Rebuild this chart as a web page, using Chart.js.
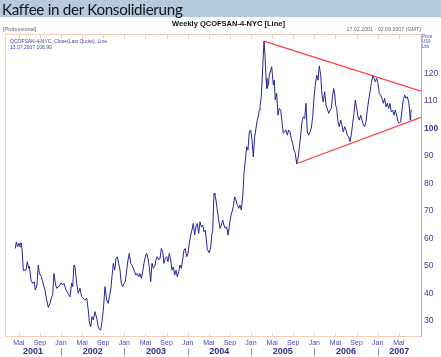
<!DOCTYPE html>
<html><head><meta charset="utf-8">
<script src="https://cdn.jsdelivr.net/npm/chart.js@4"></script>
<style>
html,body{margin:0;padding:0;background:#fff;}
#wrap{position:relative;width:441px;height:357px;overflow:hidden;font-family:'Liberation Sans',Arial,sans-serif;}
#c{position:absolute;left:0;top:0;}
.t{position:absolute;white-space:nowrap;line-height:1;}
#hdr{position:absolute;left:0;top:0;width:441px;height:17px;background:#b6cadf;}
#hdrtxt{left:2px;top:2px;font-family:Lato,'Liberation Sans',sans-serif;font-size:15.2px;letter-spacing:-0.3px;color:#141414;}
#title{left:0;width:457px;text-align:center;top:20px;font-size:7.5px;font-weight:bold;color:#111;}
#prof{left:3px;top:26.8px;font-size:5.5px;color:#666;}
#range{right:20px;top:26.8px;font-size:5.3px;color:#666;}
.leg{left:10px;font-size:5px;color:#3d3db0;}
.unit{left:422px;font-size:4.5px;color:#3d3db0;}
</style></head>
<body>
<div id="wrap">
<canvas id="c" width="441" height="357"></canvas>
<div id="hdr"></div>
<div class="t" id="hdrtxt">Kaffee in der Konsolidierung</div>
<div class="t" id="title">Weekly QCOFSAN-4-NYC [Line]</div>
<div class="t" id="prof">[Professional]</div>
<div class="t" id="range">17.02.2001 - 02.09.2007 (GMT)</div>
<div class="t leg" style="top:39.3px">QCOFSAN-4-NYC, Close(Last Quote), Line</div>
<div class="t leg" style="top:45px">13.07.2007 106,90</div>
<div class="t unit" style="top:34.5px">Price</div>
<div class="t unit" style="top:40px">US¢</div>
<div class="t unit" style="top:45px">Lbs</div>
</div>
<script>
// weekly close dates as decimal years
const weeks = [
2001.279,2001.294,2001.316,2001.337,2001.353,2001.368,2001.384,2001.405,2001.447,2001.468,2001.490,2001.500,2001.526,2001.553,2001.578,2001.594,2001.621,2001.642,2001.657,2001.689,2001.711,2001.747,2001.774,2001.800,2001.826,2001.853,2001.869,2001.889,2001.916,2001.932,2001.964,
2002.000,2002.027,2002.047,2002.079,2002.111,2002.142,2002.169,2002.185,2002.205,2002.221,2002.248,2002.273,2002.300,2002.327,2002.352,2002.379,2002.406,2002.431,2002.447,2002.469,2002.489,2002.510,2002.537,2002.564,2002.589,2002.605,2002.627,2002.647,2002.668,2002.695,2002.722,2002.747,2002.763,2002.785,2002.805,2002.826,2002.848,2002.868,2002.889,2002.911,2002.932,2002.952,2002.974,2002.995,
2003.015,2003.037,2003.058,2003.078,2003.100,2003.121,2003.142,2003.164,2003.184,2003.205,2003.227,2003.247,2003.268,2003.290,2003.310,2003.337,2003.353,2003.378,2003.394,2003.416,2003.437,2003.457,2003.479,2003.500,2003.520,2003.543,2003.563,2003.584,2003.606,2003.626,2003.647,2003.669,2003.689,2003.710,2003.732,2003.752,2003.773,2003.795,2003.816,2003.836,2003.858,2003.879,2003.899,2003.921,2003.942,2003.962,2003.985,
2004.005,2004.026,2004.048,2004.068,2004.089,2004.111,2004.131,2004.152,2004.174,2004.195,2004.215,2004.237,2004.258,2004.278,2004.300,2004.310,2004.341,2004.364,2004.384,2004.395,2004.405,2004.416,2004.431,2004.447,2004.468,2004.490,2004.510,2004.531,2004.553,2004.573,2004.594,2004.616,2004.637,2004.657,2004.679,2004.700,2004.720,2004.742,2004.763,2004.783,2004.806,2004.826,2004.847,2004.869,2004.889,2004.910,2004.932,2004.952,2004.973,2004.995,
2005.016,2005.036,2005.058,2005.079,2005.099,2005.115,2005.131,2005.142,2005.162,2005.184,2005.205,2005.221,2005.237,2005.252,2005.273,2005.289,2005.327,2005.342,2005.352,2005.368,2005.383,2005.406,2005.426,2005.447,2005.469,2005.489,2005.510,2005.532,2005.552,2005.573,2005.595,2005.616,2005.636,2005.658,2005.679,2005.699,2005.721,2005.742,2005.762,2005.784,2005.805,2005.826,2005.848,2005.868,2005.889,2005.911,2005.931,2005.952,2005.974,2005.994,
2006.015,2006.037,2006.058,2006.078,2006.100,2006.121,2006.141,2006.163,2006.184,2006.204,2006.227,2006.247,2006.268,2006.287,2006.305,2006.321,2006.337,2006.353,2006.373,2006.394,2006.416,2006.436,2006.457,2006.479,2006.500,2006.520,2006.542,2006.563,2006.583,2006.605,2006.626,2006.646,2006.669,2006.689,2006.710,2006.732,2006.752,2006.773,2006.795,2006.815,2006.836,2006.858,2006.879,2006.899,2006.921,2006.942,2006.962,2006.984,
2007.005,2007.025,2007.047,2007.068,2007.089,2007.111,2007.131,2007.152,2007.174,2007.194,2007.215,2007.237,2007.257,2007.278,2007.300,2007.321,2007.341,2007.363,2007.384,2007.404,2007.426,2007.447,2007.467,2007.490,2007.505,2007.514,2007.522,2007.530
];
// close prices, US cents per lb
const prices = [
56.4,58.8,57.0,58.3,57.0,58.5,56.5,48.5,48.5,51.6,49.2,50.0,44.9,43.7,44.3,41.3,43.1,50.4,47.5,46.1,44.3,41.3,37.6,35.0,36.4,38.8,39.5,47.3,43.1,41.9,42.5,
43.9,43.1,43.7,41.3,40.1,38.8,43.9,42.5,50.4,49.7,43.7,40.1,41.9,38.8,38.3,37.6,38.3,34.0,29.7,27.9,31.6,30.4,33.4,31.0,27.9,27.0,26.7,29.7,34.0,42.5,37.6,36.4,38.8,41.3,46.1,51.0,48.5,52.8,53.4,51.0,48.5,43.7,42.5,43.7,
44.3,48.5,52.2,54.6,51.0,50.4,49.2,47.9,46.7,47.3,46.1,47.3,45.5,47.9,51.0,54.0,54.6,52.2,49.7,44.3,51.0,49.2,49.7,52.2,53.4,52.2,52.8,56.4,55.2,51.0,52.8,53.4,51.6,54.6,52.2,48.5,49.7,46.7,48.5,46.1,47.9,50.4,49.2,52.2,55.8,56.4,53.4,
54.6,58.3,61.3,63.1,65.5,61.3,64.3,65.5,61.9,66.1,64.3,64.9,62.5,63.1,58.3,56.1,54.8,57.0,61.9,62.5,69.3,76.4,75.8,74.0,70.4,66.7,63.7,64.9,66.7,64.9,63.7,64.3,61.3,64.3,67.9,69.7,71.6,75.2,74.0,72.2,71.0,72.2,70.4,75.2,83.7,88.5,93.4,92.2,98.8,99.5,
95.8,89.7,97.0,100.1,103.1,104.3,106.7,107.9,111.6,121.9,131.8,126.7,118.3,114.6,115.8,119.5,122.5,118.3,115.8,117.6,110.4,112.8,104.9,107.3,106.7,102.5,98.3,98.8,99.5,97.6,99.5,98.8,96.4,94.6,92.2,91.0,87.3,89.2,92.8,97.6,102.5,104.3,103.7,109.2,98.8,97.6,98.8,100.1,104.3,111.0,
115.8,119.5,117.6,122.8,119.5,112.2,109.7,113.4,108.5,107.3,105.5,106.7,107.3,111.6,114.6,112.8,108.5,107.3,102.5,100.7,103.1,101.3,98.8,100.7,99.5,97.6,97.0,95.2,97.6,101.9,105.5,110.4,107.3,104.3,103.1,104.9,103.1,101.3,100.7,102.5,106.7,110.4,113.4,116.4,119.1,118.3,117.0,118.3,
116.4,112.8,112.2,111.0,109.2,111.0,107.9,109.2,107.3,109.2,106.1,106.7,104.9,106.7,104.9,102.5,101.9,102.5,106.7,110.4,112.2,111.0,111.6,109.7,106.1,103.1,105.5,106.9
];
// triangle trend lines (start/end)
const upperTrendX = [2005.205, 2007.684];
const upperTrendY = [131.8, 113.6];
const lowerTrendX = [2005.715, 2007.684];
const lowerTrendY = [87.2, 104.1];
// axes
const xRange = [2001.116, 2007.684];
const yRange = [24.2, 134.4];
const yTicks = [30, 40, 50, 60, 70, 80, 90, 100, 110, 120];
const tickMonths = [0, 4, 8];
const tickMonthLabels = ['Jan', 'Mai', 'Sep'];
const years = [2001, 2002, 2003, 2004, 2005, 2006, 2007];

const monthTickValues = [];
years.forEach(y => tickMonths.forEach(m => {
  const v = y + m / 12;
  if (v > xRange[0] && v < xRange[1] - 0.03) monthTickValues.push(v);
}));
const yearCenters = years.map(y => (Math.max(y, xRange[0]) + Math.min(y + 1, xRange[1])) / 2);

const toPts = (xs, ys) => xs.map((x, i) => ({x: x, y: ys[i]}));

const frame = {
  id: 'frame',
  beforeDatasetsDraw(chart) {
    const {ctx, chartArea: a, scales: {x, x2}} = chart;
    ctx.save();
    ctx.lineWidth = 1;
    ctx.strokeStyle = '#f6ceb6';
    ctx.beginPath();
    ctx.moveTo(a.left + 0.5, a.top); ctx.lineTo(a.left + 0.5, a.bottom);
    ctx.moveTo(a.left, a.top + 0.5); ctx.lineTo(a.right, a.top + 0.5);
    ctx.moveTo(a.left, a.bottom - 0.5); ctx.lineTo(a.right, a.bottom - 0.5);
    monthTickValues.forEach(v => {
      const px = Math.round(x.getPixelForValue(v)) + 0.5;
      ctx.moveTo(px, a.top); ctx.lineTo(px, a.top + 5);
      ctx.moveTo(px, a.bottom); ctx.lineTo(px, a.bottom - 4);
    });
    ctx.stroke();
    ctx.strokeStyle = '#ee9a9a';
    ctx.beginPath();
    ctx.moveTo(a.right + 0.5, a.top); ctx.lineTo(a.right + 0.5, a.bottom);
    ctx.stroke();
    ctx.strokeStyle = '#8f8fc0';
    ctx.beginPath();
    years.slice(1).forEach(yr => {
      const px = Math.round(x.getPixelForValue(yr)) + 0.5;
      ctx.moveTo(px, x2.top + 2); ctx.lineTo(px, x2.bottom - 1);
    });
    ctx.stroke();
    ctx.restore();
  }
};

new Chart(document.getElementById('c'), {
  type: 'line',
  data: {
    datasets: [
      {data: toPts(weeks, prices), borderColor: '#25259a', borderWidth: 1, pointRadius: 0, tension: 0, fill: false},
      {data: toPts(upperTrendX, upperTrendY), borderColor: '#ff3b3b', borderWidth: 1.2, pointRadius: 0, fill: false},
      {data: toPts(lowerTrendX, lowerTrendY), borderColor: '#ff3b3b', borderWidth: 1.2, pointRadius: 0, fill: false}
    ]
  },
  options: {
    responsive: false,
    animation: false,
    devicePixelRatio: 1,
    events: [],
    layout: {padding: {left: 5, top: 34, right: 0, bottom: 0}},
    plugins: {legend: {display: false}, tooltip: {enabled: false}, title: {display: false}},
    scales: {
      x: {
        type: 'linear', position: 'bottom', weight: 0,
        min: xRange[0], max: xRange[1],
        afterBuildTicks: s => { s.ticks = monthTickValues.map(v => ({value: v})); },
        afterFit: s => { s.height = 9; },
        grid: {display: false, drawTicks: false},
        border: {display: false},
        ticks: {
          autoSkip: false, maxRotation: 0, padding: 1.5,
          color: '#4a4aae',
          font: {family: 'Liberation Sans', size: 7},
          callback: v => {
            const m = Math.round((v - Math.floor(v + 1e-6)) * 12);
            return tickMonthLabels[tickMonths.indexOf(m)];
          }
        }
      },
      x2: {
        type: 'linear', position: 'bottom', weight: 1,
        min: xRange[0], max: xRange[1],
        afterBuildTicks: s => { s.ticks = yearCenters.map(v => ({value: v})); },
        afterFit: s => { s.height = 11; },
        grid: {display: false, drawTicks: false},
        border: {display: false},
        ticks: {
          autoSkip: false, maxRotation: 0, padding: 0.5,
          color: '#2e2e90',
          font: {family: 'Liberation Sans', size: 9, weight: 'bold'},
          callback: (v, i) => String(years[i])
        }
      },
      y: {
        type: 'linear', position: 'right',
        min: yRange[0], max: yRange[1],
        afterBuildTicks: s => { s.ticks = yTicks.map(v => ({value: v})); },
        afterFit: s => { s.width = 20; },
        grid: {display: false, drawTicks: false},
        border: {display: false},
        ticks: {
          padding: 3,
          color: '#3c3ca0',
          font: ctx => ({family: 'Liberation Sans', size: 8.5, weight: (ctx.tick && ctx.tick.value === 100) ? 'bold' : 'normal'}),
          callback: v => String(v)
        }
      }
    }
  },
  plugins: [frame]
});
</script>
</body></html>
